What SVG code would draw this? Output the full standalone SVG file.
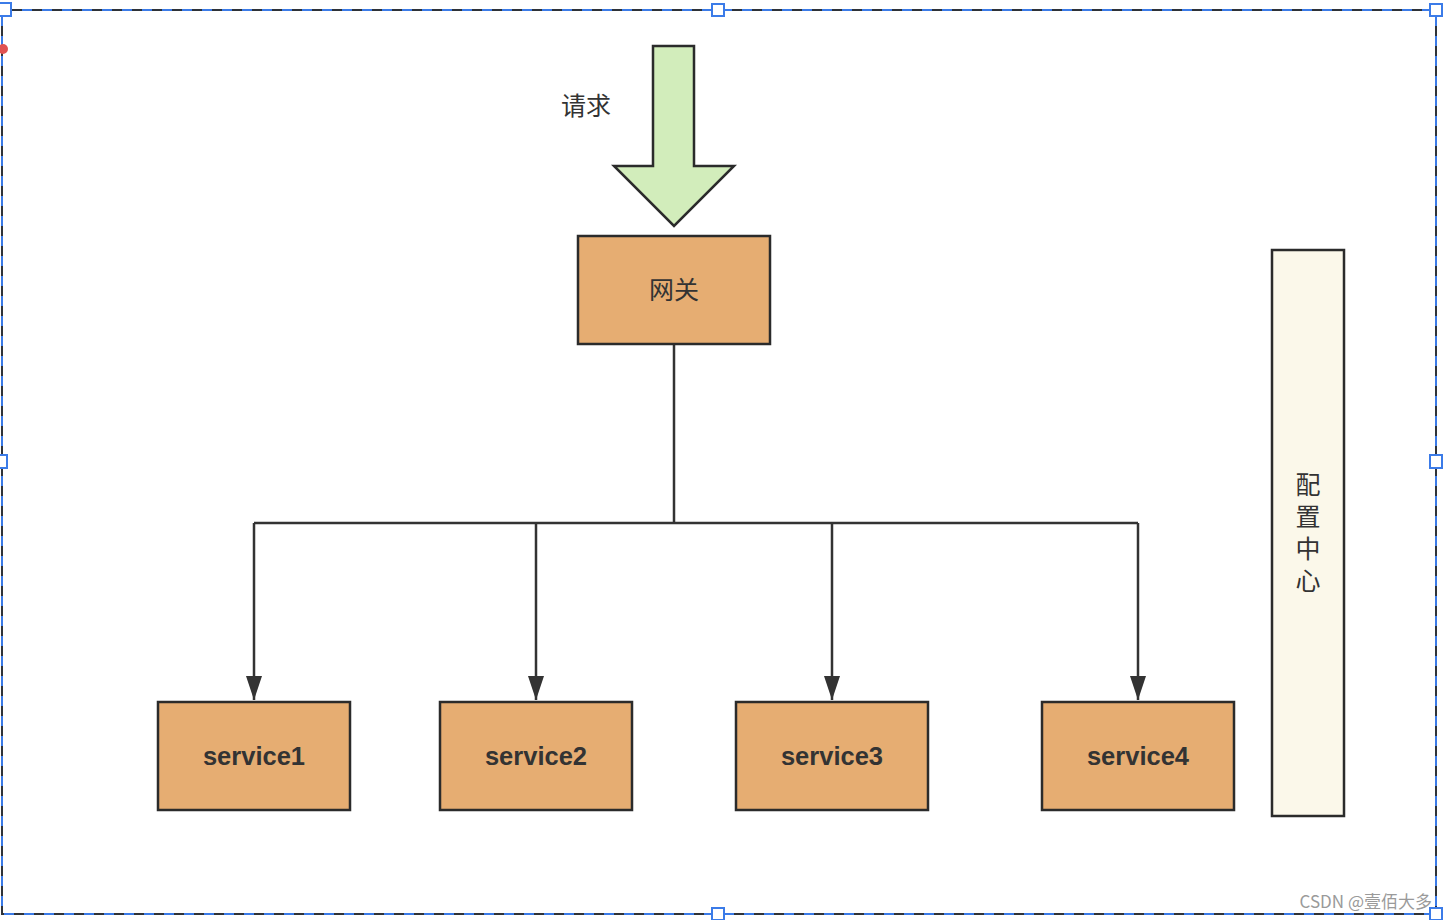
<svg xmlns="http://www.w3.org/2000/svg" width="1448" height="920" viewBox="0 0 1448 920">
<defs>
<style>
.box{fill:#E6AD72;stroke:#2B2B2B;stroke-width:2.5}
.cfg{fill:#FBF8EA;stroke:#2B2B2B;stroke-width:2.5}
.lbl{font-family:"Noto Sans CJK SC","Noto Sans",sans-serif;font-size:25px;fill:#333}
.svc{font-family:"Liberation Sans",Arial,sans-serif;font-size:25.5px;font-weight:bold;fill:#333}
.line{fill:none;stroke:#333;stroke-width:2.5}
.frame{fill:none;stroke:#2F3338;stroke-width:2}
.dash{fill:none;stroke:#3B7BE8;stroke-width:2;stroke-dasharray:10 10}
.handle{fill:#fff;stroke:#3B7BE8;stroke-width:2}
</style>
<marker id="ah" viewBox="0 0 24 16" refX="24" refY="8" markerWidth="24" markerHeight="16" markerUnits="userSpaceOnUse" orient="auto">
<path d="M0,0 L24,8 L0,16 Z" fill="#333"/>
</marker>
</defs>
<rect width="1448" height="920" fill="#fff"/>
<g id="selection">
<rect class="frame" x="2" y="10" width="1434" height="904"/>
<rect class="dash" x="2" y="10" width="1434" height="904"/>
<rect class="handle" x="-1" y="3" width="12" height="13"/>
<rect class="handle" x="712" y="4" width="12" height="12"/>
<rect class="handle" x="1430" y="4" width="12" height="12"/>
<rect class="handle" x="-5" y="455" width="12" height="13"/>
<rect class="handle" x="1430" y="455" width="12" height="13"/>
<rect class="handle" x="712" y="908" width="12" height="12"/>
<rect class="handle" x="1430" y="908" width="12" height="12"/>
<circle cx="3" cy="49" r="5" fill="#E05252"/>
</g>
<g id="connectors">
<path class="line" d="M674,344 V523" stroke-width="3.5"/>
<path class="line" d="M254,523 H1138"/>
<path class="line" d="M254,523 V700" marker-end="url(#ah)"/>
<path class="line" d="M536,523 V700" marker-end="url(#ah)"/>
<path class="line" d="M832,523 V700" marker-end="url(#ah)"/>
<path class="line" d="M1138,523 V700" marker-end="url(#ah)"/>
</g>
<g id="request">
<path d="M653,46 H694 V166 H734 L674,226 L614,166 H653 Z" fill="#D2EDBB" stroke="#2B2B2B" stroke-width="2.5" stroke-linejoin="miter"/>
<text class="lbl" x="586" y="115" text-anchor="middle">请求</text>
</g>
<g id="gateway">
<rect class="box" x="578" y="236" width="192" height="108"/>
<text class="lbl" x="674" y="299" text-anchor="middle">网关</text>
</g>
<g id="service1">
<rect class="box" x="158" y="702" width="192" height="108"/>
<text class="svc" x="254" y="765" text-anchor="middle">service1</text>
</g>
<g id="service2">
<rect class="box" x="440" y="702" width="192" height="108"/>
<text class="svc" x="536" y="765" text-anchor="middle">service2</text>
</g>
<g id="service3">
<rect class="box" x="736" y="702" width="192" height="108"/>
<text class="svc" x="832" y="765" text-anchor="middle">service3</text>
</g>
<g id="service4">
<rect class="box" x="1042" y="702" width="192" height="108"/>
<text class="svc" x="1138" y="765" text-anchor="middle">service4</text>
</g>
<g id="config">
<rect class="cfg" x="1272" y="250" width="72" height="566"/>
<text class="lbl" x="1308" y="472" style="writing-mode:vertical-rl;letter-spacing:7px">配置中心</text>
</g>
<text x="1432" y="908" text-anchor="end" font-family="'Noto Sans CJK SC','Noto Sans',sans-serif" font-size="17" fill="#9A9A9A">CSDN @壹佰大多</text>
</svg>
